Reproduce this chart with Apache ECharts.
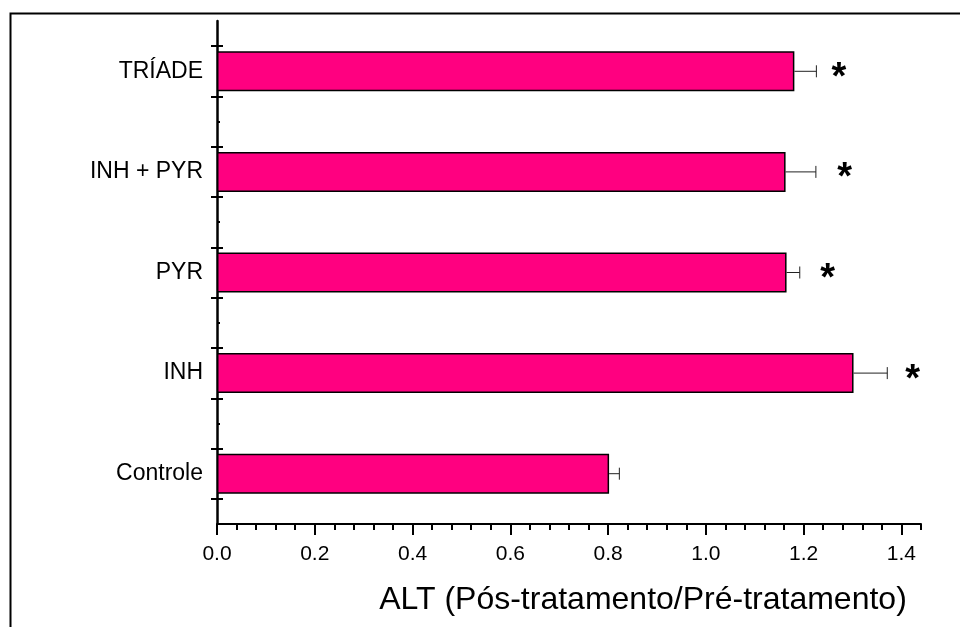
<!DOCTYPE html>
<html>
<head>
<meta charset="utf-8">
<script src="https://cdn.jsdelivr.net/npm/echarts@6/dist/echarts.min.js"></script>
<style>
  html, body { margin: 0; padding: 0; background: #fff; }
  #chart { width: 960px; height: 627px; }
</style>
</head>
<body>
<div id="chart"></div>
<script>
// ---- data (top to bottom) ----
const categories = ['TRÍADE', 'INH + PYR', 'PYR', 'INH', 'Controle'];
const ratioValues = [1.181, 1.163, 1.165, 1.302, 0.802];
const errorValues = [0.045, 0.062, 0.027, 0.069, 0.021];
const starMarks = ['*', '*', '*', '*', ''];
const starX = [1.272, 1.284, 1.249, 1.423, null];
const xTickLabels = [0, 0.2, 0.4, 0.6, 0.8, 1.0, 1.2, 1.4];
const xMinorTicks = [0.04, 0.08, 0.12, 0.16, 0.24, 0.28, 0.32, 0.36, 0.44, 0.48, 0.52, 0.56,
  0.64, 0.68, 0.72, 0.76, 0.84, 0.88, 0.92, 0.96, 1.04, 1.08, 1.12, 1.16,
  1.24, 1.28, 1.32, 1.36, 1.44];
const yMajorTicks = [0.25, 0.75, 1.25, 1.75, 2.25, 2.75, 3.25, 3.75, 4.25, 4.75];
const yMinorTicks = [0.5, 1.0, 1.5, 2.0, 2.5, 3.0, 3.5, 4.0, 4.5];
const xTitle = 'ALT (Pós-tratamento/Pré-tratamento)';

const FONT = '"Liberation Sans", Arial, Helvetica, sans-serif';

const chart = echarts.init(document.getElementById('chart'), null, { renderer: 'canvas' });

const errData = ratioValues.map((v, i) => [v, i, errorValues[i]]);
const starData = starX.map((x, i) => [x, i, starMarks[i]]).filter(d => d[0] !== null);

function tickYAxis(values, inside, len) {
  return {
    type: 'value', gridIndex: 0, position: 'left', min: 0, max: 5,
    axisLine: { show: false }, axisLabel: { show: false }, splitLine: { show: false },
    axisTick: { show: true, inside: inside, length: len, customValues: values,
      lineStyle: { color: '#000', width: 2 } }
  };
}

const option = {
  animation: false,
  backgroundColor: '#fff',
  textStyle: { fontFamily: FONT },
  graphic: [{
    type: 'rect', left: 8, top: 11, shape: { width: 1000, height: 700 },
    style: { fill: 'none', stroke: '#000', lineWidth: 2 }, silent: true, z: -1
  }],
  grid: { left: 217, right: 39, top: 21, bottom: 103, containLabel: false, outerBoundsMode: 'none' },
  xAxis: [{
    type: 'value', min: 0, max: 1.44,
    axisLine: { show: true, lineStyle: { color: '#000', width: 2 } },
    axisTick: { show: true, length: 11, customValues: xTickLabels, lineStyle: { color: '#000', width: 2 } },
    axisLabel: { show: true, customValues: xTickLabels, margin: 20, color: '#000', fontSize: 21, fontFamily: FONT,
      formatter: v => Number(v).toFixed(1) },
    splitLine: { show: false },
    name: xTitle, nameLocation: 'middle', nameGap: 60,
    nameTextStyle: { fontSize: 32, color: '#000', fontFamily: FONT, padding: [0, 0, 0, 148] }
  }, {
    type: 'value', min: 0, max: 1.44, position: 'bottom',
    axisLine: { show: false }, axisLabel: { show: false }, splitLine: { show: false },
    axisTick: { show: true, length: 6, customValues: xMinorTicks, lineStyle: { color: '#000', width: 2 } }
  }],
  yAxis: [{
    type: 'category', data: categories, inverse: true, position: 'left',
    axisLine: { show: true, lineStyle: { color: '#000', width: 2.5 } },
    axisTick: { show: false },
    axisLabel: { color: '#000', fontSize: 23, margin: 14, fontFamily: FONT },
    splitLine: { show: false }
  },
    tickYAxis(yMajorTicks, false, 6),
    tickYAxis(yMajorTicks, true, 6),
    tickYAxis(yMinorTicks, true, 3)
  ],
  series: [{
    type: 'bar', xAxisIndex: 0, yAxisIndex: 0,
    data: ratioValues, barWidth: 40,
    itemStyle: { color: '#FF0080', borderColor: '#000', borderWidth: 1.5 },
    z: 2
  }, {
    type: 'custom', xAxisIndex: 0, yAxisIndex: 0,
    data: errData, z: 3,
    renderItem: function (params, api) {
      const v = api.value(0), c = api.value(1), e = api.value(2);
      const p0 = api.coord([v, c]);
      const p1 = api.coord([v + e, c]);
      return {
        type: 'group',
        children: [
          { type: 'line', shape: { x1: p0[0], y1: p0[1], x2: p1[0], y2: p1[1] },
            style: { stroke: '#222', lineWidth: 1 } },
          { type: 'line', shape: { x1: p1[0], y1: p1[1] - 6, x2: p1[0], y2: p1[1] + 6 },
            style: { stroke: '#222', lineWidth: 1 } }
        ]
      };
    }
  }, {
    type: 'custom', xAxisIndex: 0, yAxisIndex: 0,
    data: starData, z: 4,
    renderItem: function (params, api) {
      const p = api.coord([api.value(0), api.value(1)]);
      return {
        type: 'text',
        style: { text: starData[params.dataIndex][2], x: p[0], y: p[1] + 7,
          align: 'center', verticalAlign: 'middle',
          font: 'bold 38px ' + FONT, fill: '#000' }
      };
    }
  }]
};
chart.setOption(option);
</script>
</body>
</html>
